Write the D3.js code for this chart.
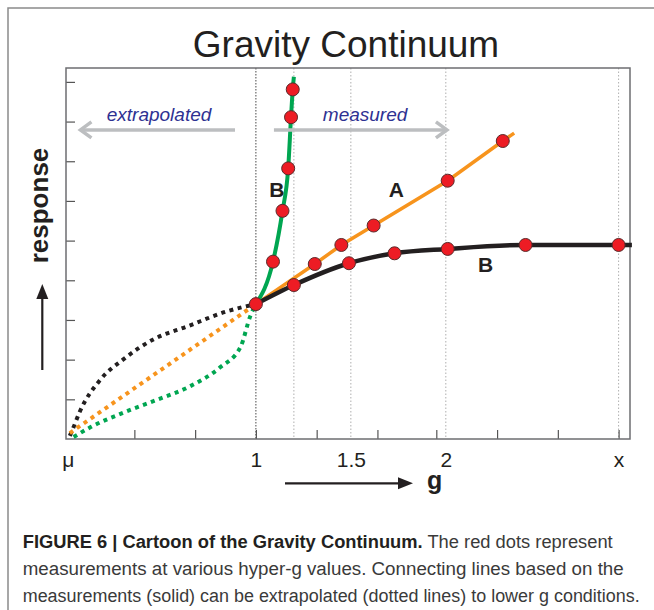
<!DOCTYPE html>
<html>
<head>
<meta charset="utf-8">
<script src="https://cdn.jsdelivr.net/npm/d3@7"></script>
<style>
body { margin: 0; background: #fff; }
svg { display: block; font-family: "Liberation Sans", Arial, sans-serif; }
</style>
</head>
<body>
<svg id="chart"></svg>
<script>
// measured points [g, response]
const dotsA = [[1.31, 4.41], [1.45, 4.89], [1.62, 5.38], [2.01, 6.51], [2.30, 7.51]];
const dotsBsteep = [[1.09, 4.47], [1.14, 5.75], [1.17, 6.82], [1.185, 8.11], [1.194, 8.81]];
const dotsB = [[1.0, 3.40], [1.20, 3.88], [1.49, 4.43], [1.73, 4.68], [2.01, 4.79], [2.42, 4.89], [2.91, 4.89]];

// where the solid lines stop
const endA = [2.36, 7.71];
const endBsteep = [1.20, 9.13];
const endB = [2.98, 4.89];

// extrapolated parts (dotted) down to mu
const extraA = [[0.02, 0.15], [1.0, 3.40]];
const extraBsteep = [[0.04, 0.05], [0.13, 0.30], [0.30, 0.66], [0.48, 0.99], [0.65, 1.32], [0.81, 1.80], [0.92, 2.33], [0.97, 3.09], [1.0, 3.40]];
const extraB = [[0.02, 0.08], [0.04, 0.30], [0.07, 0.66], [0.18, 1.49], [0.30, 2.0], [0.46, 2.51], [0.64, 2.84], [0.85, 3.22], [1.0, 3.40]];

// axes
const yTicks = [1, 2, 3, 4, 5, 6, 7, 8, 9];
const xTicks = [0.36, 0.68, 1.0, 1.32, 1.64, 1.95, 2.27, 2.59, 2.91];
const gridVals = [1.2, 1.5, 2, 2.91];
const xLabelVals = [0.01, 1, 1.5, 2, 2.91];
const xLabels = ["μ", "1", "1.5", "2", "x"];

const green = "#00a651", orange = "#f7941d", black = "#231f20", red = "#ed1c24";
const arrowGray = "#bcbec0", blue = "#2e3192";

const margin = {top: 68, right: 24, bottom: 171, left: 66};
const width = 654 - margin.left - margin.right;
const height = 610 - margin.top - margin.bottom;

const svg = d3.select("#chart")
    .attr("width", 654)
    .attr("height", 610);

// outer figure frame
svg.append("rect")
    .attr("x", 8).attr("y", 8)
    .attr("width", 680).attr("height", 640)
    .attr("fill", "none")
    .attr("stroke", "#8a8a8a")
    .attr("stroke-width", 1.5);

// title
svg.append("text")
    .attr("x", 346).attr("y", 57)
    .attr("text-anchor", "middle")
    .attr("font-size", 37)
    .attr("fill", black)
    .text("Gravity Continuum");

const g = svg.append("g")
    .attr("transform", "translate(" + margin.left + "," + margin.top + ")");

const x = d3.scaleLinear()
    .domain([0, 2.97])
    .range([0, width]);

const y = d3.scaleLinear()
    .domain([0, 9.35])
    .range([height, 0]);

// dotted vertical grid lines
g.selectAll(".grid")
    .data(gridVals)
    .enter().append("line")
    .attr("class", "grid")
    .attr("x1", d => x(d)).attr("x2", d => x(d))
    .attr("y1", 0).attr("y2", height)
    .attr("stroke", "#9a9a9a")
    .attr("stroke-width", 0.8)
    .attr("stroke-dasharray", "1.5,2");

g.append("line")
    .attr("x1", x(1)).attr("x2", x(1))
    .attr("y1", 0).attr("y2", height)
    .attr("stroke", "#333")
    .attr("stroke-width", 0.9)
    .attr("stroke-dasharray", "1.5,1.5");

// ticks (inside)
g.append("g")
    .attr("class", "yaxis")
    .call(d3.axisLeft(y).tickValues(yTicks).tickSize(-9).tickFormat(""))
    .call(a => a.select(".domain").remove());

g.append("g")
    .attr("class", "xaxis")
    .attr("transform", "translate(0," + height + ")")
    .call(d3.axisBottom(x).tickValues(xTicks).tickSize(-9).tickFormat(""))
    .call(a => a.select(".domain").remove());

g.selectAll(".yaxis line, .xaxis line")
    .attr("stroke", "#555")
    .attr("stroke-width", 1.2);

// x labels
const xlab = g.append("g")
    .attr("class", "xlabels")
    .attr("transform", "translate(0," + height + ")")
    .call(d3.axisBottom(x).tickValues(xLabelVals).tickSize(0).tickFormat((d, i) => xLabels[i]));
xlab.select(".domain").remove();
xlab.attr("font-size", null).attr("font-family", null);
xlab.selectAll("text")
    .attr("y", 28)
    .attr("dy", null)
    .style("font-size", "21px")
    .style("font-family", "'Liberation Sans', Arial, sans-serif")
    .attr("fill", black);

// plot frame
g.append("rect")
    .attr("width", width).attr("height", height)
    .attr("fill", "none")
    .attr("stroke", "#6d6e71")
    .attr("stroke-width", 1.5);

const curve = d3.line()
    .x(d => x(d[0]))
    .y(d => y(d[1]));

// extrapolated dotted curves
[[extraB, black], [extraA, orange], [extraBsteep, green]].forEach(function (s) {
    g.append("path")
        .attr("d", curve.curve(d3.curveMonotoneX)(s[0]))
        .attr("fill", "none")
        .attr("stroke", s[1])
        .attr("stroke-width", 4)
        .attr("stroke-dasharray", "4,4.5");
});

// solid measured lines
const lineA = [dotsB[0]].concat(dotsA, [endA]);
const lineBsteep = [dotsB[0]].concat(dotsBsteep, [endBsteep]);
const lineB = dotsB.concat([endB]);

g.append("path")
    .attr("d", curve.curve(d3.curveLinear)(lineA))
    .attr("fill", "none")
    .attr("stroke", orange)
    .attr("stroke-width", 3.5);

g.append("path")
    .attr("d", curve.curve(d3.curveMonotoneX)(lineB))
    .attr("fill", "none")
    .attr("stroke", black)
    .attr("stroke-width", 4.5);

g.append("path")
    .attr("d", curve.curve(d3.curveMonotoneX)(lineBsteep))
    .attr("fill", "none")
    .attr("stroke", green)
    .attr("stroke-width", 4);

// red dots
g.selectAll(".dot")
    .data(dotsA.concat(dotsBsteep, dotsB))
    .enter().append("circle")
    .attr("class", "dot")
    .attr("r", 6.5)
    .attr("cx", d => x(d[0]))
    .attr("cy", d => y(d[1]))
    .attr("fill", red)
    .attr("stroke", "#5a2a2a")
    .attr("stroke-width", 1);

// curve labels
const curveLabels = [["A", 1.74, 6.10], ["B", 1.11, 6.10], ["B", 2.21, 4.21]];
g.selectAll(".clabel")
    .data(curveLabels)
    .enter().append("text")
    .attr("class", "clabel")
    .attr("x", d => x(d[1]))
    .attr("y", d => y(d[2]))
    .attr("text-anchor", "middle")
    .attr("font-size", 21)
    .attr("font-weight", "bold")
    .attr("fill", black)
    .text(d => d[0]);

// extrapolated / measured arrows
function grayArrow(g0, g1, r) {
    const x0 = x(g0), x1 = x(g1), yy = y(r);
    const dir = x1 > x0 ? -1 : 1;
    g.append("line")
        .attr("x1", x0).attr("x2", x1)
        .attr("y1", yy).attr("y2", yy)
        .attr("stroke", arrowGray)
        .attr("stroke-width", 3.5);
    g.append("path")
        .attr("d", "M" + (x1 + dir * 11) + "," + (yy - 8) + "L" + x1 + "," + yy + "L" + (x1 + dir * 11) + "," + (yy + 8))
        .attr("fill", "none")
        .attr("stroke", arrowGray)
        .attr("stroke-width", 3.5);
}
grayArrow(0.89, 0.076, 7.79);
grayArrow(1.095, 2.006, 7.79);

g.append("text")
    .attr("x", x(0.49)).attr("y", y(8.01))
    .attr("text-anchor", "middle")
    .attr("font-size", 19)
    .attr("font-style", "italic")
    .attr("fill", blue)
    .text("extrapolated");

g.append("text")
    .attr("x", x(1.575)).attr("y", y(8.01))
    .attr("text-anchor", "middle")
    .attr("font-size", 19)
    .attr("font-style", "italic")
    .attr("fill", blue)
    .text("measured");

// axis titles with black arrows
svg.append("text")
    .attr("transform", "translate(48,205.5) rotate(-90)")
    .attr("text-anchor", "middle")
    .attr("font-size", 26)
    .attr("font-weight", "bold")
    .attr("fill", black)
    .text("response");

svg.append("line")
    .attr("x1", 42.3).attr("x2", 42.3)
    .attr("y1", 370).attr("y2", 296)
    .attr("stroke", black).attr("stroke-width", 2.2);
svg.append("path")
    .attr("d", "M42.3,284L36.3,299L48.3,299Z")
    .attr("fill", black);

svg.append("line")
    .attr("x1", 285).attr("x2", 400)
    .attr("y1", 483.3).attr("y2", 483.3)
    .attr("stroke", black).attr("stroke-width", 2.2);
svg.append("path")
    .attr("d", "M413,483.3L398,477.3L398,489.3Z")
    .attr("fill", black);

svg.append("text")
    .attr("x", 427).attr("y", 489)
    .attr("font-size", 25)
    .attr("font-weight", "bold")
    .attr("fill", black)
    .text("g");

// caption
const caption = svg.append("g")
    .attr("font-size", 18)
    .attr("fill", "#3a3a3a");

const line1 = caption.append("text")
    .attr("x", 22.7).attr("y", 548)
    .attr("textLength", 590)
    .attr("lengthAdjust", "spacingAndGlyphs");
line1.append("tspan")
    .attr("font-weight", "bold")
    .attr("fill", black)
    .text("FIGURE 6 | Cartoon of the Gravity Continuum.");
line1.append("tspan")
    .text(" The red dots represent");

caption.append("text")
    .attr("x", 22.7).attr("y", 575)
    .attr("textLength", 601)
    .attr("lengthAdjust", "spacingAndGlyphs")
    .text("measurements at various hyper-g values. Connecting lines based on the");

caption.append("text")
    .attr("x", 22.7).attr("y", 602)
    .attr("textLength", 617)
    .attr("lengthAdjust", "spacingAndGlyphs")
    .text("measurements (solid) can be extrapolated (dotted lines) to lower g conditions.");
</script>
</body>
</html>
